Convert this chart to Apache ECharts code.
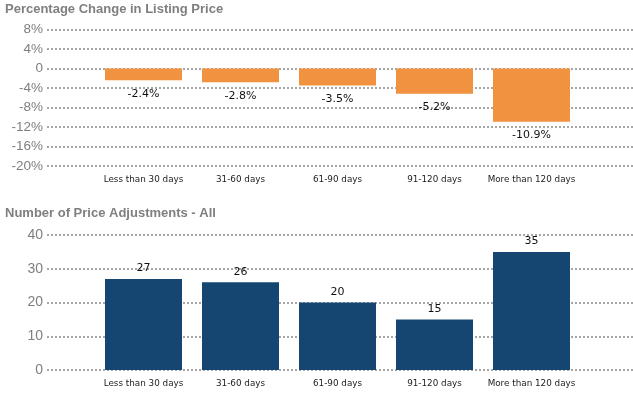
<!DOCTYPE html>
<html><head><meta charset="utf-8">
<script src="https://cdn.jsdelivr.net/npm/echarts@6/dist/echarts.min.js"></script>
<style>html,body{margin:0;padding:0;background:#fff}#c{width:633px;height:400px}</style>
</head><body><div id="c"></div>
<script>
const categories = ['Less than 30 days','31-60 days','61-90 days','91-120 days','More than 120 days'];
const pctChange = [-2.4, -2.8, -3.5, -5.2, -10.9];
const adjustments = [27, 26, 20, 15, 35];
const pctTicks = [-20, 8, 4];   // min, max, interval
const cntTicks = [0, 40, 10];

const gridLine = {show:true, lineStyle:{color:'#a6a6a6', width:2, type:[2,2]}};
const yLab = {color:'#7f7f7f', fontSize:13.5, fontFamily:'Liberation Sans', margin:4};
const xLab = {color:'#222', fontSize:8.8, fontFamily:'DejaVu Sans', margin:9, interval:0};

const chart = echarts.init(document.getElementById('c'), null, {renderer:'canvas'});
chart.setOption({
  animation:false,
  title:[
    {text:'Percentage Change in Listing Price', left:0, top:-2, textStyle:{color:'#7f7f7f', fontSize:13, fontWeight:'bold', fontFamily:'Liberation Sans'}},
    {text:'Number of Price Adjustments - All', left:0, top:202, textStyle:{color:'#7f7f7f', fontSize:13, fontWeight:'bold', fontFamily:'Liberation Sans'}}
  ],
  grid:[
    {left:47, right:0, top:29.5, height:136.5},
    {left:95, right:53, top:29.5, height:136.5},
    {left:47, right:0, top:235, height:135},
    {left:95, right:53, top:235, height:135}
  ],
  xAxis:[
    {gridIndex:0, type:'category', data:categories, show:false},
    {gridIndex:1, type:'category', data:categories,
      axisLine:{show:false}, axisTick:{show:false}, axisLabel:Object.assign({}, xLab, {margin:9})},
    {gridIndex:2, type:'category', data:categories, show:false},
    {gridIndex:3, type:'category', data:categories,
      axisLine:{show:false}, axisTick:{show:false}, axisLabel:xLab}
  ],
  yAxis:[
    {gridIndex:0, type:'value', min:pctTicks[0], max:pctTicks[1], interval:pctTicks[2],
      axisLine:{show:false}, axisTick:{show:false}, splitLine:gridLine,
      axisLabel:Object.assign({}, yLab, {formatter:v => v===0 ? '0' : v+'%'})},
    {gridIndex:1, type:'value', min:pctTicks[0], max:pctTicks[1], interval:pctTicks[2], show:false, splitLine:{show:false}},
    {gridIndex:2, type:'value', min:cntTicks[0], max:cntTicks[1], interval:cntTicks[2],
      axisLine:{show:false}, axisTick:{show:false}, splitLine:gridLine,
      axisLabel:Object.assign({}, yLab, {fontSize:14})},
    {gridIndex:3, type:'value', min:cntTicks[0], max:cntTicks[1], interval:cntTicks[2], show:false, splitLine:{show:false}}
  ],
  series:[
    {type:'bar', xAxisIndex:1, yAxisIndex:1, data:pctChange, barWidth:77,
      itemStyle:{color:'#f0923f'},
      label:{show:true, position:'bottom', distance:8, color:'#111', fontSize:11, fontFamily:'DejaVu Sans', formatter:p => p.value.toFixed(1)+'%'}},
    {type:'bar', xAxisIndex:3, yAxisIndex:3, data:adjustments, barWidth:77,
      itemStyle:{color:'#154672'},
      label:{show:true, position:'top', distance:5, color:'#111', fontSize:11, fontFamily:'DejaVu Sans'}}
  ]
});
</script></body></html>
